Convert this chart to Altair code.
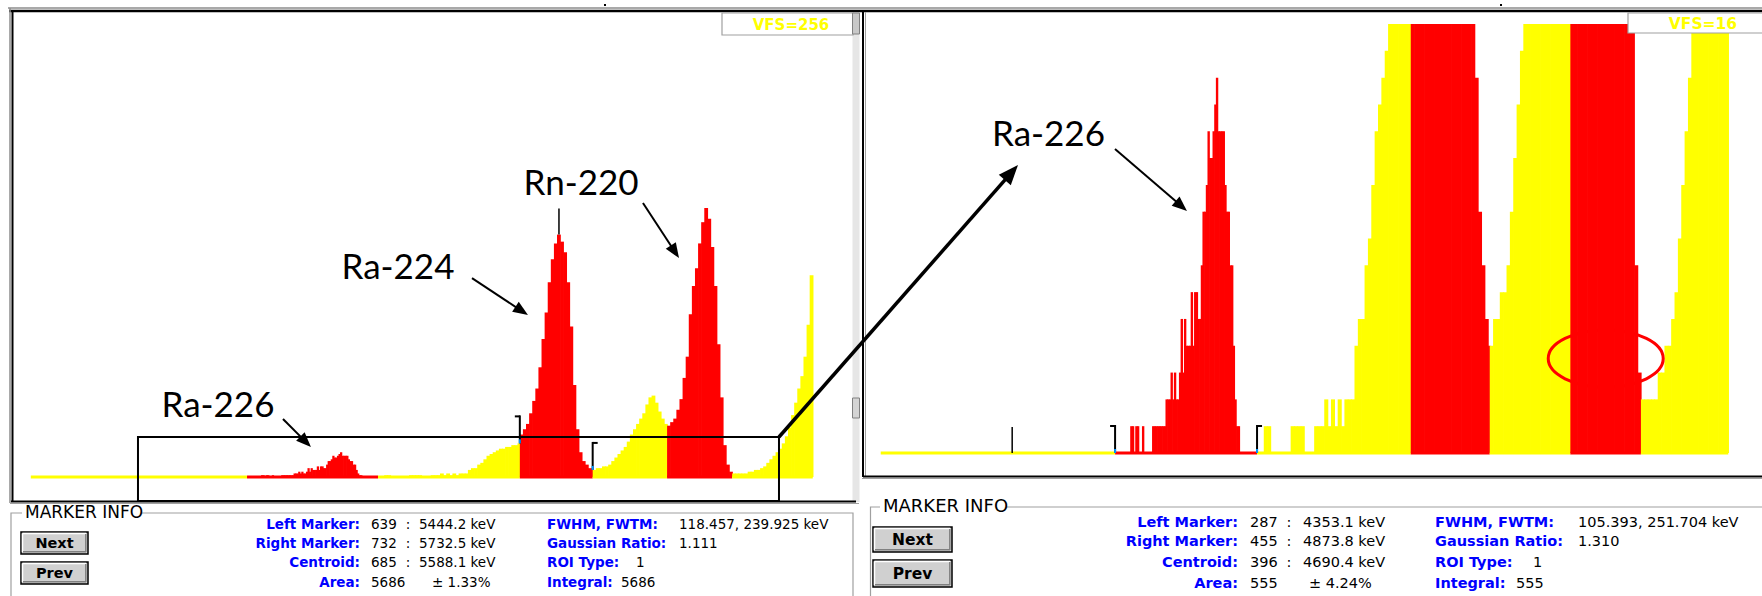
import math
import altair as alt
import pandas as pd

W, H = 1762, 596
UI_FONT = "DejaVu Sans"
TAG_FONT = "Lato"
ROI_RED = "#ff0000"
BG_YELLOW = "#ffff00"

# ---------------- spectrum: counts per channel, binned by region ----------------
SPEC_START, SPEC_END = 8, 1017

# 2-channel bins, channels 287-455 (Ra-226 ROI)
ra226_counts = [0, 0, 0, 0, 0, 0, 0, 0, 0,
                1, 1, 0, 1, 1, 0, 0, 1, 0, 0, 0, 0, 0,
                1, 1, 1, 1, 1, 1, 1, 1,
                2, 2, 2, 3, 2, 3, 2, 2,
                3, 5, 3, 5, 4, 4, 4,
                6, 4, 6, 6, 5, 5,
                7, 9, 9, 10, 12, 11, 11, 12, 13, 14,
                12, 12, 12, 12, 10, 9, 9, 7, 7, 4, 2, 1, 1,
                0, 0, 0, 0, 0, 0, 0, 0, 0, 0, 0]
# 4-channel bins, channels 456-638
gap1_counts = [0, 0, 1, 1, 0, 0, 0, 0, 0, 0, 1, 1, 1, 1, 0, 0, 0, 1, 1, 1,
               2, 1, 2, 1, 2, 1, 2, 2, 2, 4, 5, 5, 7, 8, 10, 12, 13, 14, 15, 16,
               16, 17, 17, 18, 18, 19]
# 4-channel bins, channels 639-732 (Ra-224 ROI)
ra224_counts = [24, 27, 30, 36, 43, 50, 62, 78, 93, 110, 123, 132, 137, 133, 127,
                110, 85, 52, 27, 14, 9, 7, 5, 4]
# 4-channel bins, channels 733-828
gap2_counts = [4, 5, 5, 6, 6, 7, 9, 11, 13, 15, 17, 20, 24, 27, 30, 33, 36, 41,
               45, 46, 42, 37, 33, 30]
# 4-channel bins, channels 829-912 (Rn-220 ROI)
rn220_counts = [29, 31, 33, 38, 44, 56, 68, 92, 108, 118, 132, 144, 152, 146, 130,
                108, 75, 45, 18, 7, 3]
# 4-channel bins, channels 913-1016
tail_counts = [2, 2, 2, 2, 2, 3, 3, 4, 4, 5, 6, 8, 10, 12, 14, 16, 19, 23, 28, 35,
               42, 50, 57, 68, 86, 114]

# (first channel, end channel, bin width, counts, kind)
regions = [
    (SPEC_START, 287, 4, [], "bg"),
    (287, 456, 2, ra226_counts, "roi"),
    (456, 639, 4, gap1_counts, "bg"),
    (639, 733, 4, ra224_counts, "roi"),
    (733, 829, 4, gap2_counts, "bg"),
    (829, 913, 4, rn220_counts, "roi"),
    (913, SPEC_END, 4, tail_counts, "bg"),
]

# ---------------- marker info readouts ----------------
left_info = [("Left Marker:", "639", "5444.2 keV"), ("Right Marker:", "732", "5732.5 keV"),
             ("Centroid:", "685", "5588.1 keV"), ("Area:", "5686", "± 1.33%")]
left_stats = [("FWHM, FWTM:", "118.457, 239.925 keV"), ("Gaussian Ratio:", "1.111"),
              ("ROI Type:", "1"), ("Integral:", "5686")]
right_info = [("Left Marker:", "287", "4353.1 keV"), ("Right Marker:", "455", "4873.8 keV"),
              ("Centroid:", "396", "4690.4 keV"), ("Area:", "555", "± 4.24%")]
right_stats = [("FWHM, FWTM:", "105.393, 251.704 keV"), ("Gaussian Ratio:", "1.310"),
               ("ROI Type:", "1"), ("Integral:", "555")]

vfs_left, vfs_right = 256, 16
cursor_left, cursor_right = 689, 164

# peak tags (text, channel, counts at text baseline) and arrows (tail, head) in each view's units
left_tags = [("Ra-226", 249.5, 33.9), ("Ra-224", 481.8, 111.9), ("Rn-220", 718.0, 159.3)]
left_arrows = [((333.4, 32.8), (369.5, 16.9)), ((577.3, 112.4), (649.5, 91.5)),
               ((797.9, 154.8), (844.4, 123.7))]
right_tags = [("Ra-226", 207.7, 11.46)]
right_arrows = [((286.9, 11.34), (372.6, 9.03))]
zoom_window = ((146.3, 973.4), (-13.6, 22.6))
zoom_arrow_tip = (1281.8, 176.3)
circled = (871.1, 3.52)

# ---------------- tables ----------------
rows = []
for lo, hi, w, counts, kind in regions:
    for i, c in enumerate(counts):
        a = lo + i * w
        rows.append(dict(ch0=a, ch1=min(a + w, hi), count=c, kind=kind, zero=0))
bins_df = pd.DataFrame(rows)
segs_df = pd.DataFrame([dict(ch0=lo, ch1=hi, kind=kind, zero=0) for lo, hi, _, _, kind in regions])


def count_at(ch):
    for lo, hi, w, counts, kind in regions:
        if lo <= ch < hi and counts:
            return counts[(ch - lo) // w]
    return 0


# view geometry: pixel of channel 0, pixels per channel, baseline pixel, pixels per count
views = {
    "left": dict(x0=24.6, kx=0.775, base=477.0, ky=453.0 / vfs_left, vfs=vfs_left),
    "right": dict(x0=874.0, kx=0.84, base=453.0, ky=429.0 / vfs_right, vfs=vfs_right),
}

ONE = alt.Data(values=[{"k": 0}])
HEAD = "M0,0L0.4,1L-0.4,1Z"
RING = "M-1,0A1,0.496,0,1,1,1,0A1,0.496,0,1,1,-1,0Z"


def scales(v):
    xd = [-v["x0"] / v["kx"], (W - v["x0"]) / v["kx"]]
    yd = [(v["base"] - H) / v["ky"], v["base"] / v["ky"]]
    return (alt.Scale(domain=xd, nice=False, zero=False),
            alt.Scale(domain=yd, nice=False, zero=False))


def to_px(v, ch, c):
    return v["x0"] + v["kx"] * ch, v["base"] - v["ky"] * c


def axes(v):
    xs, ys = scales(v)
    return (lambda f: alt.X(f, type="quantitative", scale=xs, axis=None),
            lambda f: alt.Y(f, type="quantitative", scale=ys, axis=None))


kind_scale = alt.Scale(domain=["bg", "roi"], range=[BG_YELLOW, ROI_RED])


def spectrum(v, info, cursor):
    X, Y = axes(v)
    color = alt.Color("kind:N", scale=kind_scale, legend=None)
    # each bin slightly overlaps its right neighbour so no hairline seams show
    bars = (alt.Chart(bins_df).transform_filter("datum.count > 0")
            .transform_calculate(shown=f"min(datum.count, {v['vfs']})")
            .mark_rect(x2Offset=0.7)
            .encode(x=X("ch0"), x2="ch1", y=Y("shown"), y2="zero", color=color))
    base = alt.Chart(segs_df).mark_rule(strokeWidth=3).encode(
        x=X("ch0"), x2="ch1", y=Y("zero"), color=color)
    lm, rm = int(info[0][1]), int(info[1][1])
    mk = pd.DataFrame({"ch": [lm, rm + 1], "base": [count_at(lm - 1), count_at(rm + 1)]})
    stems = alt.Chart(mk).mark_rule(color="black", strokeWidth=2, y2Offset=-28).encode(
        x=X("ch"), y=Y("base"), y2="base")
    feet = alt.Chart(mk).mark_rule(color="#0096ff", strokeWidth=2, y2Offset=-4).encode(
        x=X("ch"), y=Y("base"), y2="base")
    tick_l = alt.Chart(mk.iloc[[0]]).mark_rule(color="black", strokeWidth=2, x2Offset=-5, yOffset=-27).encode(
        x=X("ch"), x2="ch", y=Y("base"))
    tick_r = alt.Chart(mk.iloc[[1]]).mark_rule(color="black", strokeWidth=2, x2Offset=5, yOffset=-27).encode(
        x=X("ch"), x2="ch", y=Y("base"))
    cur = pd.DataFrame({"ch": [cursor + 0.5], "base": [count_at(cursor)]})
    cursor_rule = alt.Chart(cur).mark_rule(color="black", strokeWidth=1.5, y2Offset=-26).encode(
        x=X("ch"), y=Y("base"), y2="base")
    return [bars, base, stems, feet, tick_l, tick_r, cursor_rule]


def arrow(v, start, tip, width, head_len):
    X, Y = axes(v)
    (px0, py0), (px1, py1) = to_px(v, *start), to_px(v, *tip)
    dx, dy = px1 - px0, py1 - py0
    length = math.hypot(dx, dy)
    ang = math.degrees(math.atan2(dx, -dy)) % 360
    back = 0.7 * head_len / length
    end = (tip[0] - (tip[0] - start[0]) * back, tip[1] - (tip[1] - start[1]) * back)
    seg_df = pd.DataFrame({"a": [start[0]], "b": [start[1]], "c": [end[0]], "d": [end[1]]})
    line = alt.Chart(seg_df).mark_rule(color="black", strokeWidth=width).encode(
        x=X("a"), y=Y("b"), x2="c", y2="d")
    head = alt.Chart(pd.DataFrame({"ch": [tip[0]], "c": [tip[1]]})).mark_point(
        shape=HEAD, size=(2 * head_len) ** 2, angle=ang, filled=True, color="black",
        strokeWidth=0, opacity=1).encode(x=X("ch"), y=Y("c"))
    return [line, head]


def tags(v, items):
    X, Y = axes(v)
    df = pd.DataFrame(items, columns=["t", "ch", "c"])
    return [alt.Chart(df).mark_text(font=TAG_FONT, fontSize=35, align="center",
                                    baseline="alphabetic", color="black").encode(
        x=X("ch"), y=Y("c"), text="t:N")]


# ---------------- pixel-placed window furniture ----------------
def rect(x0, y0, x1, y1, fill=None, stroke=None, sw=1.0):
    kw = {"fill": fill if fill else "transparent"}
    if stroke:
        kw["stroke"] = stroke
        kw["strokeWidth"] = sw
    return alt.Chart(ONE).mark_rect(**kw).encode(
        x=alt.value(x0), x2=alt.value(x1), y=alt.value(y0), y2=alt.value(y1))


def seg(x0, y0, x1, y1, color, sw):
    return alt.Chart(ONE).mark_rule(color=color, strokeWidth=sw).encode(
        x=alt.value(x0), y=alt.value(y0), x2=alt.value(x1), y2=alt.value(y1))


def text(t, x, y, size, color="#000000", bold=False, align="left", font=UI_FONT):
    return alt.Chart(ONE).mark_text(align=align, baseline="middle", font=font, fontSize=size,
                                    fontWeight="bold" if bold else "normal", color=color).encode(
        x=alt.value(x), y=alt.value(y), text=alt.value(t))


def button(x0, y0, x1, y1, label, size):
    return [
        rect(x0, y0, x1, y1, fill="#d0d0d0", stroke="#000000", sw=1.5),
        seg(x0 + 1.5, y0 + 1.5, x1 - 2, y0 + 1.5, "#ffffff", 1.5),
        seg(x0 + 1.5, y0 + 1.5, x0 + 1.5, y1 - 2, "#ffffff", 1.5),
        seg(x0 + 2, y1 - 2.2, x1 - 2, y1 - 2.2, "#808080", 1.5),
        seg(x1 - 2.2, y0 + 2, x1 - 2.2, y1 - 2, "#808080", 1.5),
        text(label, (x0 + x1) / 2, (y0 + y1) / 2 + 0.5, size, bold=True, align="center"),
    ]


info_layout = {
    "left": dict(box=(11, 513, 853), title_x=25, size=13.5, title_size=17, btn_size=14.5,
                 buttons=((21, 532, 88, 554), (21, 562, 88, 584)),
                 rows=(525, 544, 563, 582.5), lab_r=360, num_x=371, colon_x=408, kev_x=419,
                 pct_x=432, stat_x=547, stat_val_x=(679, 679, 636, 621)),
    "right": dict(box=(870.5, 507, 1775), title_x=883, size=14.5, title_size=18, btn_size=15.5,
                  buttons=((873, 527, 952, 552), (873, 560, 952, 587)),
                  rows=(523, 542, 563, 584), lab_r=1238, num_x=1250, colon_x=1289, kev_x=1303,
                  pct_x=1309, stat_x=1435, stat_val_x=(1578, 1578, 1533, 1516)),
}


def info_panel(lay, info, stats):
    bx0, by, bx1 = lay["box"]
    out = [rect(bx0, by, bx1, 640, stroke="#a0a0a0", sw=1.2),
           rect(lay["title_x"] - 3, by - 9, lay["title_x"] + 9 * lay["title_size"] * 0.76, by + 8, fill="#ffffff"),
           text("MARKER INFO", lay["title_x"], by, lay["title_size"])]
    (n0, n1) = lay["buttons"]
    out += button(*n0, "Next", lay["btn_size"])
    out += button(*n1, "Prev", lay["btn_size"])
    s = lay["size"]
    for i, (lab, num, kev) in enumerate(info):
        y = lay["rows"][i]
        out.append(text(lab, lay["lab_r"], y, s, color="#0000ff", bold=True, align="right"))
        out.append(text(num, lay["num_x"], y, s))
        if kev.startswith("±"):
            out.append(text(kev, lay["pct_x"], y, s))
        else:
            out.append(text(":", lay["colon_x"], y, s, align="center"))
            out.append(text(kev, lay["kev_x"], y, s))
    for i, (lab, val) in enumerate(stats):
        y = lay["rows"][i]
        out.append(text(lab, lay["stat_x"], y, s, color="#0000ff", bold=True))
        out.append(text(val, lay["stat_val_x"][i], y, s))
    return out


L, R = views["left"], views["right"]
layers = []

# scrollbar strip between the two views
layers += [rect(852.5, 13, 859.5, 502, fill="#e6e6e6"),
           rect(852.5, 398, 859.5, 418, fill="#d4d4d4", stroke="#808080", sw=1)]

# spectra
layers += spectrum(L, left_info, cursor_left)
layers += spectrum(R, right_info, cursor_right)

# highlighted tail of the Rn-220 peak
RX, RY = axes(R)
layers.append(alt.Chart(pd.DataFrame({"ch": [circled[0]], "c": [circled[1]]})).mark_point(
    shape=RING, size=115 ** 2, filled=False, color=ROI_RED, strokeWidth=3, opacity=1).encode(
    x=RX("ch"), y=RY("c")))

# frames
layers += [
    seg(8, 8, W, 8, "#8c8c8c", 1.5),
    seg(9, 11, W, 11, "#000000", 2.5),
    seg(10, 8, 10, 503, "#8c8c8c", 1.5),
    seg(12.5, 11, 12.5, 502, "#000000", 2),
    seg(11, 501.5, 856, 501.5, "#000000", 2),
    seg(10, 503.5, 859, 503.5, "#a0a0a0", 1),
    seg(863, 11, 863, 477, "#000000", 2),
    seg(865.5, 12, 865.5, 476, "#a0a0a0", 1),
    seg(863, 476.5, W, 476.5, "#000000", 2),
    seg(862, 478.5, W, 478.5, "#a0a0a0", 1),
    rect(604, 4, 606, 6, fill="#000000"),
    rect(1500, 4, 1502, 6, fill="#000000"),
]

# full-scale readouts
layers += [
    rect(722, 13, 853, 35, fill="#ffffff", stroke="#a0a0a0", sw=1.2),
    rect(852.5, 13, 859.5, 34, fill="#c8c8c8", stroke="#808080", sw=1),
    text(f"VFS={vfs_left}", 791, 24.5, 15, color=BG_YELLOW, bold=True, align="center"),
    rect(1628, 13, 1775, 33, fill="#ffffff", stroke="#a0a0a0", sw=1.2),
    text(f"VFS={vfs_right}", 1703, 23.5, 15.5, color=BG_YELLOW, bold=True, align="center"),
]

# zoom window on the left view and the pointer to the right view
LX, LY = axes(L)
(zx0, zx1), (zy0, zy1) = zoom_window
zdf = pd.DataFrame({"a": [zx0], "b": [zx1], "c": [zy0], "d": [zy1]})
layers.append(alt.Chart(zdf).mark_rect(fill="transparent", stroke="black", strokeWidth=2).encode(
    x=LX("a"), x2="b", y=LY("c"), y2="d"))
layers += arrow(L, (zx1, zy1), zoom_arrow_tip, 3.5, 20)

# peak tags
layers += tags(L, left_tags)
for a, b in left_arrows:
    layers += arrow(L, a, b, 2, 15)
layers += tags(R, right_tags)
for a, b in right_arrows:
    layers += arrow(R, a, b, 2, 15)

# marker info panels
layers += info_panel(info_layout["left"], left_info, left_stats)
layers += info_panel(info_layout["right"], right_info, right_stats)

chart = (alt.layer(*layers)
         .resolve_scale(x="independent", y="independent")
         .properties(width=W, height=H, padding=0, background="#ffffff",
                     autosize=alt.AutoSizeParams(type="none"))
         .configure_view(stroke=None))

chart.save("out.html", embed_options={"renderer": "svg", "actions": False})
